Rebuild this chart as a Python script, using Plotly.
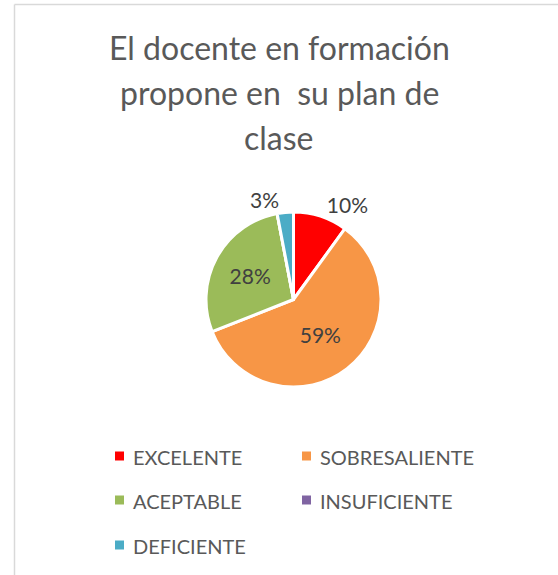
import plotly.graph_objects as go

# ---------------------------------------------------------------------------
# Data
# ---------------------------------------------------------------------------
categories = ["EXCELENTE", "SOBRESALIENTE", "ACEPTABLE", "INSUFICIENTE", "DEFICIENTE"]
values = [10, 59, 28, 0, 3]
colors = ["#FF0000", "#F79646", "#9BBB59", "#8064A2", "#4BACC6"]
label_pos = ["outside", "inside", "inside", "none", "outside"]

title_lines = ["El docente en formación", "propone en  su plan de", "clase"]

FONT = "Lato, 'Open Sans', sans-serif"
W, H = 558, 575

fig = go.Figure(
    go.Pie(
        labels=categories,
        values=values,
        sort=False,
        direction="clockwise",
        rotation=0,
        marker=dict(colors=colors, line=dict(color="white", width=3)),
        texttemplate="%{percent:.0%}",
        textposition=label_pos,
        textfont=dict(size=21, color="#404040", family=FONT),
        insidetextorientation="horizontal",
        showlegend=False,
        hoverinfo="label+percent",
        domain=dict(x=[206 / W, 381 / W], y=[1 - 387 / H, 1 - 212 / H]),
    )
)

# Title, one annotation per line so the line spacing matches the original
for i, line in enumerate(title_lines):
    fig.add_annotation(
        text=line, xref="paper", yref="paper", x=0.5, y=1 - (26 + 45 * i) / H,
        xanchor="center", yanchor="top", showarrow=False,
        font=dict(size=32, color="#595959", family=FONT),
    )

# Manual legend: two columns, rows spaced like the original
col_x = [115, 302]
row_y = [456, 500, 545]
for i, (name, col) in enumerate(zip(categories, colors)):
    x = col_x[i % 2]
    y = row_y[i // 2]
    fig.add_shape(
        type="rect", xref="paper", yref="paper",
        x0=x / W, x1=(x + 9) / W, y0=1 - (y + 4.5) / H, y1=1 - (y - 4.5) / H,
        fillcolor=col, line=dict(width=0),
    )
    fig.add_annotation(
        text=name, xref="paper", yref="paper", x=(x + 16) / W, y=1 - (y + 1) / H,
        xanchor="left", yanchor="middle", showarrow=False,
        font=dict(size=20, color="#595959", family=FONT),
    )

# Chart frame (left and top edges visible)
fig.add_shape(type="line", xref="paper", yref="paper",
              x0=14.5 / W, x1=14.5 / W, y0=0, y1=1 - 4.5 / H,
              line=dict(color="#D9D9D9", width=1.5))
fig.add_shape(type="line", xref="paper", yref="paper",
              x0=14.5 / W, x1=1, y0=1 - 4.5 / H, y1=1 - 4.5 / H,
              line=dict(color="#D9D9D9", width=1.5))

fig.update_layout(
    width=W, height=H,
    margin=dict(l=0, r=0, t=0, b=0),
    paper_bgcolor="white",
    plot_bgcolor="white",
)

# drop the browser's default body margin so the figure sits at the page origin
fig.write_html(
    "out.html",
    config={"displayModeBar": False},
    post_script="document.body.style.margin='0';",
)
